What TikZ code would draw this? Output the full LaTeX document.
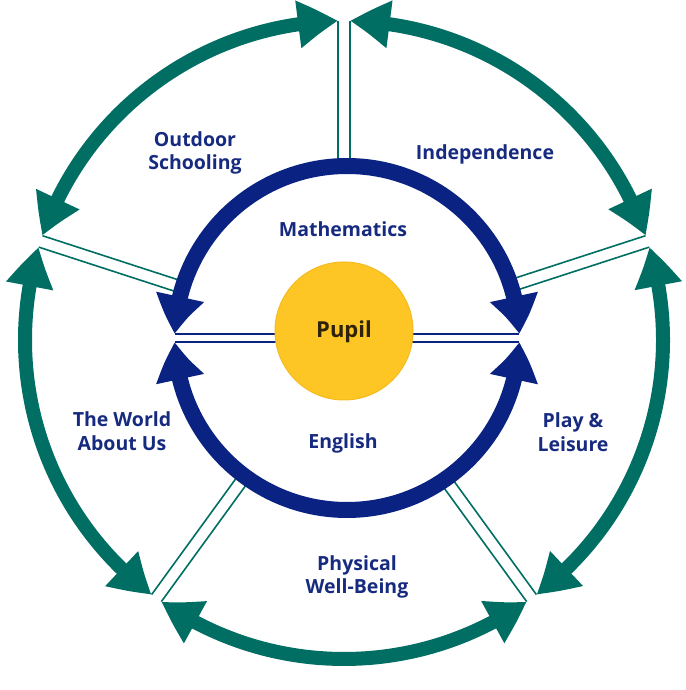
\documentclass[tikz,border=0pt]{standalone}
\usepackage{fontspec}
\setmainfont{Open Sans}
\usetikzlibrary{arrows.meta,bending,calc}
\definecolor{grn}{RGB}{0,110,98}
\definecolor{blu}{RGB}{10,35,130}
\definecolor{txt}{RGB}{22,42,128}
\definecolor{pupfill}{RGB}{253,198,36}
\definecolor{pupline}{RGB}{246,186,30}
\definecolor{puptxt}{RGB}{48,34,8}
\begin{document}
\begin{tikzpicture}[x=1pt,y=1pt,
  garrow/.tip={Triangle[length=40pt,width=45pt,bend]},
  barrow/.tip={Triangle[length=38pt,width=46pt,bend]},
  greenarc/.style={draw=grn, line width=14pt, {garrow}-{garrow}},
  bluearc/.style={draw=blu, line width=16pt, {barrow}-{barrow}},
  gsep/.style={draw=grn, line width=1.6pt},
  bsep/.style={draw=blu, line width=1.8pt},
  lbl/.style={text=txt, font=\bfseries\fontsize{19.5}{23.5}\selectfont, align=center},
  pupil/.style={circle, fill=pupfill, draw=pupline, line width=1pt, minimum size=138pt, inner sep=0pt,
    text=puptxt, font=\bfseries\fontsize{22}{26}\selectfont}]
\useasboundingbox (0,0) rectangle (685,690);
\coordinate (O) at (344,350);
\coordinate (B) at (347,352);
% green separators
\foreach \a in {18,90,162,234,306}{
  \foreach \s in {6,-6}{
    \draw[gsep] ($(O)+(\a:172)+(\a+90:\s)$) -- ($(O)+(\a:319)+(\a+90:\s)$);
  }
}
% green arcs
\foreach \a in {18,90,162,234,306}{
  \draw[greenarc] ($(O)+(\a+1.08:319)$) arc[start angle=\a+1.08, end angle=\a+70.92, radius=319];
}
% blue separators
\coordinate (BL1) at ($(B)+(-172,4)$);
\coordinate (BR1) at ($(B)+(172,4)$);
\coordinate (BL2) at ($(B)+(-172,-4)$);
\coordinate (BR2) at ($(B)+(172,-4)$);
\draw[bsep] (BL1) -- (BR1);
\draw[bsep] (BL2) -- (BR2);
% blue arcs
\draw[bluearc] ($(B)+(1.33:172)$) arc[start angle=1.33, end angle=178.67, radius=172];
\draw[bluearc] ($(B)+(181.33:172)$) arc[start angle=181.33, end angle=358.67, radius=172];
% pupil
\node[pupil, text height=15pt, text depth=1pt] (pup) at (344,359) {Pupil};
% labels
\node[lbl] (outdoor) at (195,537) {Outdoor\\Schooling};
\node[lbl] (indep) at (485,536) {Independence};
\node[lbl] (math) at (343,461) {Mathematics};
\node[lbl] (eng) at (343,247) {English};
\node[lbl] (world) at (122,259) {The World\\About Us};
\node[lbl] (play) at (573,258) {Play \&\\Leisure};
\node[lbl] (phys) at (357,113) {Physical\\Well-Being};
\end{tikzpicture}
\end{document}
